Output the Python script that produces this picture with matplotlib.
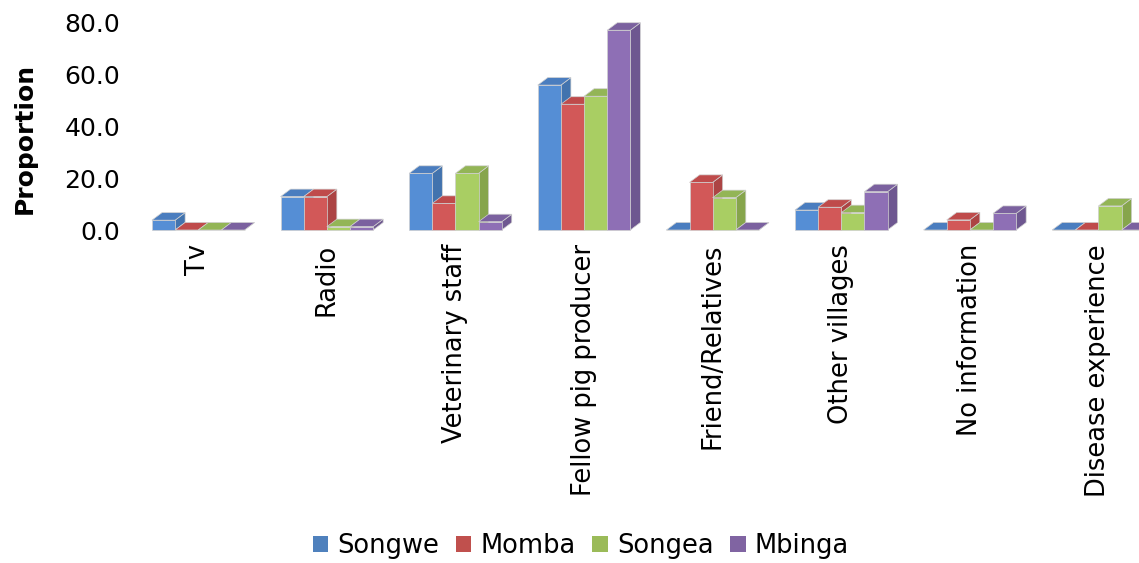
import matplotlib
matplotlib.use("Agg")
import matplotlib.pyplot as plt
from matplotlib.patches import Polygon, Patch

categories = ["Tv", "Radio", "Veterinary staff", "Fellow pig producer",
              "Friend/Relatives", "Other villages", "No information",
              "Disease experience"]
series = ["Songwe", "Momba", "Songea", "Mbinga"]
songwe = [3.8, 12.9, 21.9, 56.0, 0.0, 7.7, 0.0, 0.0]
momba = [0.0, 12.9, 10.3, 48.6, 18.4, 8.8, 3.9, 0.0]
songea = [0.0, 1.3, 21.9, 51.7, 12.5, 6.7, 0.0, 9.3]
mbinga = [0.0, 1.3, 3.2, 77.2, 0.0, 14.8, 6.4, 0.0]
values = [songwe, momba, songea, mbinga]

legend_colors = ["#4F81BD", "#C0504D", "#9BBB59", "#8064A2"]
front_colors = ["#558ED5", "#D25858", "#A9CE63", "#8E6FB5"]
top_colors = ["#4A7DBF", "#BF4B4B", "#93B556", "#7B619F"]
side_colors = ["#4273AE", "#AC4444", "#86A54C", "#6E5790"]

W, H = 1139, 563
fig = plt.figure(figsize=(W / 100, H / 100), dpi=100)
ax_left, ax_right = 140, 1139
ax_top, ax_bottom = 23, 230
ax = fig.add_axes([ax_left / W, (H - ax_bottom) / H,
                   (ax_right - ax_left) / W, (ax_bottom - ax_top) / H])

step = 128.6  # pixels between category groups
x0 = -0.453
x1 = x0 + (ax_right - ax_left) / step
ax.set_xlim(x0, x1)
ax.set_ylim(0, 80)

# pixel offsets for the fake depth of each bar
px_x = (x1 - x0) / (ax_right - ax_left)
px_y = 80 / (ax_bottom - ax_top)
dx, dy = 10 * px_x, 7.5 * px_y

bw = 0.18
edge = "#D0D0D0"
for i, (vals, fc, tc, sc) in enumerate(zip(values, front_colors, top_colors, side_colors)):
    for c, v in enumerate(vals):
        left = c - 2 * bw + i * bw
        right = left + bw
        front = Polygon([(left, 0), (right, 0), (right, v), (left, v)],
                        closed=True, fc=fc, ec=edge, lw=0.5, clip_on=False)
        side = Polygon([(right, 0), (right + dx, dy), (right + dx, v + dy), (right, v)],
                       closed=True, fc=sc, ec=edge, lw=0.5, clip_on=False)
        top = Polygon([(left, v), (right, v), (right + dx, v + dy), (left + dx, v + dy)],
                      closed=True, fc=tc, ec=edge, lw=0.5, clip_on=False)
        for p in (side, front, top):
            ax.add_patch(p)

for s in ax.spines.values():
    s.set_visible(False)

ax.set_yticks([0, 20, 40, 60, 80])
ax.set_yticklabels(["0.0", "20.0", "40.0", "60.0", "80.0"], fontsize=18)
ax.set_xticks(range(len(categories)))
ax.set_xticklabels(categories, rotation=90, fontsize=18.5, va="top")
ax.tick_params(axis="both", length=0)
ax.tick_params(axis="x", pad=10)
ax.tick_params(axis="y", pad=14.4)
ax.set_ylabel("Proportion", fontsize=18, fontweight="bold")
ax.yaxis.set_label_coords(-0.103, 0.444)

handles = [Patch(fc=c, ec="none") for c in legend_colors]
fig.legend(handles, series, loc="center", bbox_to_anchor=(0.51, 0.03),
           ncol=4, frameon=False, fontsize=18.5, handlelength=0.6,
           handleheight=0.6, handletextpad=0.35, columnspacing=0.65)

fig.savefig("out.png", dpi=100)
